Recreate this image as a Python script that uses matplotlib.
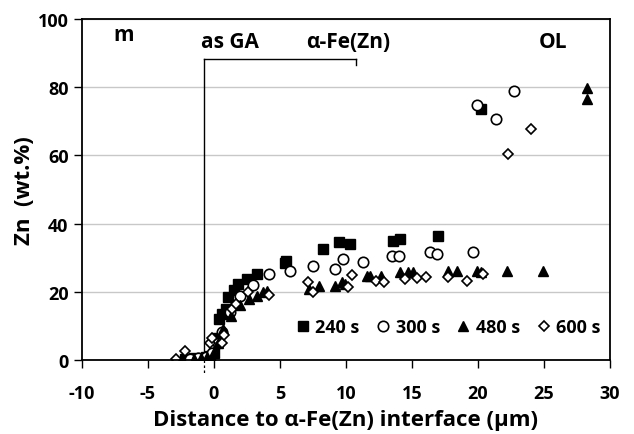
import matplotlib
matplotlib.use('Agg')
import matplotlib.pyplot as plt

plt.rcParams['font.family'] = ['Open Sans', 'DejaVu Sans']
plt.rcParams['font.weight'] = 'bold'
plt.rcParams['axes.unicode_minus'] = False

# Zn profiles vs distance to the alpha-Fe(Zn) interface, by annealing time
x_240 = [-2.2, -1.8, -1.5, -1.2, -0.9, -0.6, -0.3, 0.0, 0.2, 0.4, 0.6, 0.9, 1.1, 1.5,
         1.8, 2.5, 3.3, 5.4, 5.5, 8.3, 9.5, 10.3, 13.6, 14.1, 17.0, 20.2]
zn_240 = [0.2, 0.3, 0.5, 0.4, 0.6, 0.8, 1.2, 2.0, 6.5, 12.0, 13.5, 15.0, 18.5, 20.5,
          22.3, 23.8, 25.2, 28.5, 29.0, 32.6, 34.6, 34.0, 35.0, 35.5, 36.4, 73.6]

x_300 = [-1.8, -1.2, -0.6, -0.1, 0.3, 0.6, 1.2, 2.0, 3.0, 4.2, 5.8, 7.5, 9.2, 9.8,
         11.3, 13.5, 14.0, 16.4, 16.9, 19.6, 19.9, 21.4, 22.7]
zn_300 = [0.3, 0.5, 0.8, 2.0, 5.0, 8.2, 14.0, 18.8, 22.0, 25.2, 26.1, 27.6, 26.7, 29.6,
          28.7, 30.5, 30.5, 31.7, 31.1, 31.7, 74.8, 70.7, 78.9]

x_480 = [-1.5, -1.0, -0.5, 0.0, 0.3, 0.7, 1.3, 2.0, 2.7, 3.3, 3.7, 4.0, 7.2, 8.0, 9.2,
         9.7, 9.9, 11.6, 11.8, 12.7, 14.1, 14.7, 15.1, 17.7, 18.4, 19.9, 20.2, 22.2,
         24.9, 28.3, 28.3]
zn_480 = [0.3, 0.5, 1.0, 2.5, 5.0, 9.0, 13.0, 16.0, 17.9, 18.8, 19.9, 20.2, 20.8, 21.7,
          21.7, 22.9, 22.3, 24.6, 24.6, 24.6, 25.8, 25.8, 25.8, 26.1, 26.1, 26.1, 25.8,
          26.1, 26.1, 79.8, 76.5]

x_600 = [-2.9, -2.2, -0.3, -0.1, 0.6, 0.8, 1.4, 1.7, 2.6, 4.2, 7.1, 7.5, 10.2, 10.5,
         12.3, 12.9, 14.5, 15.4, 16.1, 17.7, 19.2, 20.4, 22.3, 24.0]
zn_600 = [0.3, 2.6, 4.9, 6.5, 5.0, 7.4, 15.0, 16.4, 19.9, 19.2, 22.9, 19.9, 21.4, 25.0,
          23.2, 22.9, 23.8, 24.0, 24.3, 24.3, 23.2, 25.2, 60.4, 67.7]

# as-GA interface position and the extent of the alpha-Fe(Zn) layer
x_interface = -0.76
x_layer_end = 10.76
zn_bracket = 88.3

fig, ax = plt.subplots(figsize=(6.34, 4.35), dpi=100)
fig.subplots_adjust(left=0.129, right=0.962, bottom=0.170, top=0.954)

ax.plot(x_240, zn_240, 's', color='black', ms=6.5, ls='none', label='240 s')
ax.plot(x_300, zn_300, 'o', mfc='white', mec='black', mew=1.2, ms=7.5, ls='none', label='300 s')
ax.plot(x_480, zn_480, '^', color='black', ms=7.5, ls='none', label='480 s')
ax.plot(x_600, zn_600, 'D', mfc='white', mec='black', mew=1.2, ms=5.5, ls='none', label='600 s')

# bracket marking the alpha-Fe(Zn) layer
ax.plot([x_interface, x_interface], [0, zn_bracket], color='black', lw=1.0, zorder=1)
ax.plot([x_interface, x_layer_end], [zn_bracket, zn_bracket], color='black', lw=1.0)
ax.plot([x_layer_end, x_layer_end], [zn_bracket, zn_bracket - 1.8], color='black', lw=1.0)
ax.plot([x_interface, x_interface], [0, -4.5], color='black', lw=0.9, ls=(0, (2, 2)),
        clip_on=False)

ax.text(-6.8, 95.6, 'm', ha='center', va='center', fontsize=15)
ax.text(1.2, 93.3, 'as GA', ha='center', va='center', fontsize=15)
ax.text(10.15, 93.3, 'α-Fe(Zn)', ha='center', va='center', fontsize=15)
ax.text(25.7, 93.5, 'OL', ha='center', va='center', fontsize=15)

ax.set_xlim(-10, 30)
ax.set_ylim(0, 100)
ax.set_xticks(range(-10, 31, 5))
ax.set_yticks(range(0, 101, 20))
ax.yaxis.grid(True, color='#c8c8c8', lw=1.0)
ax.set_axisbelow(True)
ax.tick_params(axis='both', labelsize=13, length=6, width=1.0, direction='out')
ax.tick_params(axis='x', pad=11)
for lbl in ax.get_xticklabels() + ax.get_yticklabels():
    lbl.set_fontweight('bold')
for sp in ax.spines.values():
    sp.set_linewidth(1.3)
    sp.set_color('black')

ax.set_xlabel('Distance to α-Fe(Zn) interface (μm)', fontsize=16, fontweight='bold',
              labelpad=5)
ax.set_ylabel('Zn  (wt.%)', fontsize=16, fontweight='bold', labelpad=2)

ax.legend(loc='center', bbox_to_anchor=(0.69, 0.097), ncol=4, frameon=False,
          handletextpad=0.1, columnspacing=0.7, handlelength=1.2,
          prop={'family': ['Open Sans', 'DejaVu Sans'], 'weight': 'bold', 'size': 13})

plt.savefig('out.png')
